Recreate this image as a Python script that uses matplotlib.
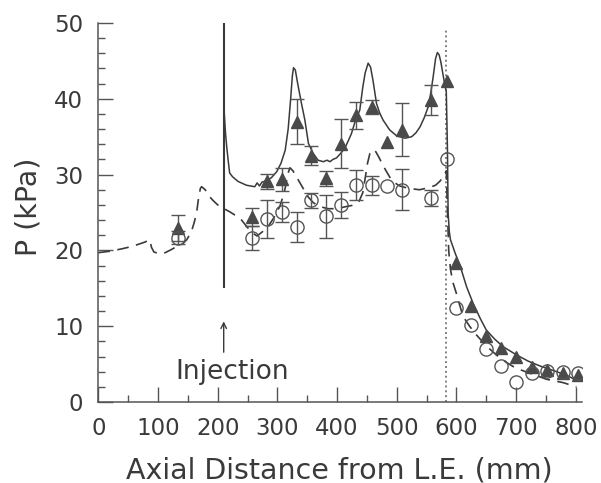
import numpy as np
import matplotlib
matplotlib.use("Agg")
import matplotlib.pyplot as plt

# -----------------------------
# Data
# -----------------------------
# measured points, triangles (with injection) and circles (no injection)
x_pts = [134, 257, 282, 307, 332, 357, 382, 407, 432, 458, 484, 508, 558, 584,
         600, 624, 649, 674, 700, 726, 751, 778, 803]
p_tri = [23.0, 24.4, 29.1, 29.4, 37.0, 32.5, 29.5, 34.1, 37.8, 38.9, 34.3, 35.9,
         39.8, 42.3, 18.4, 12.7, 8.7, 7.1, 5.9, 4.65, 4.2, 3.8, 3.6]
err_tri = [1.7, 1.2, 1.0, 1.5, 3.0, 1.3, 1.0, 3.2, 1.8, 0.9, 0, 3.5,
           2.0, 0, 0, 0, 0, 0, 0, 0, 0, 0, 0]
p_circ = [21.7, 21.6, 24.1, 25.1, 23.1, 26.6, 24.5, 26.0, 28.6, 28.6, 28.5, 28.0,
          26.9, 32.0, 12.4, 10.2, 6.95, 4.75, 2.7, 3.8, 4.1, 3.9, 3.8]
err_circ = [0.8, 1.6, 2.5, 1.3, 2.0, 1.0, 2.8, 1.7, 2.0, 1.25, 0, 2.7,
            1.1, 0, 0, 0, 0, 0, 0, 0, 0, 0, 0]

# computed curve with injection (solid)
x_solid = [211, 213, 215, 218, 220, 225, 234, 248, 262, 266, 270, 274, 282, 290,
           299, 306, 313, 318, 322, 325, 327, 330, 334, 340, 346, 352, 360, 368,
           377, 383, 388, 393, 399, 406, 413, 419, 424, 431, 438, 443, 447, 452,
           456, 460, 466, 471, 477, 488, 500, 514, 525, 532, 539, 546, 553, 557,
           561, 565, 568, 571, 574, 579, 583, 585, 586, 588, 590, 598, 606, 617,
           628, 640, 650, 664, 678, 701, 720, 740, 768, 785, 803]
p_solid = [38.0, 35.5, 33.7, 31.5, 30.2, 29.7, 29.1, 28.6, 28.4, 28.9, 28.5, 29.0,
           29.2, 29.6, 30.4, 31.5, 33.2, 36.0, 39.8, 43.0, 44.1, 43.8, 42.0, 39.5,
           37.2, 34.1, 32.8, 31.9, 31.7, 31.9, 31.7, 32.0, 32.2, 32.8, 33.5, 34.5,
           35.4, 37.2, 38.5, 41.5, 43.4, 44.7, 44.2, 42.5, 39.4, 38.2, 37.2, 35.9,
           35.1, 34.8, 35.0, 35.5, 36.3, 37.5, 39.0, 40.8, 42.9, 45.3, 46.1, 45.8,
           44.8, 42.5, 40.9, 33.0, 25.0, 22.5, 21.4, 19.6, 18.0, 15.2, 13.0, 11.0,
           9.5, 8.3, 7.3, 6.2, 5.4, 4.75, 4.0, 3.5, 2.8]

# computed curve without injection (dashed)
x_dash = [0, 20, 39, 55, 67, 78, 86, 89, 93, 100, 112, 122, 131, 140, 148, 156,
          161, 165, 168, 171, 173, 176, 179, 185, 192, 200, 208, 220, 232, 240,
          250, 258, 266, 274, 284, 294, 304, 309, 313, 317, 321, 326, 332, 343,
          351, 360, 370, 385, 400, 416, 430, 437, 443, 447, 451, 455, 460, 465,
          470, 475, 482, 488, 495, 505, 519, 538, 555, 565, 572, 578, 583, 585,
          587, 590, 594, 600, 605, 611, 622, 634, 650, 667, 684, 700, 723, 751,
          779, 801]
p_dash = [19.7, 19.9, 20.2, 20.5, 20.8, 21.1, 21.4, 20.4, 19.8, 19.6, 19.7, 20.1,
          20.5, 20.8, 21.4, 22.5, 23.8, 25.2, 27.0, 28.2, 28.4, 28.2, 28.0, 27.2,
          26.6, 26.0, 25.6, 25.1, 24.5, 24.0, 23.0, 22.3, 21.9, 22.4, 23.1, 24.3,
          25.8, 27.0, 28.2, 30.0, 30.9, 30.5, 29.7, 28.2, 27.1, 26.3, 25.8, 25.5,
          25.5, 25.8, 26.0, 26.5, 27.6, 29.5, 31.5, 32.8, 33.3, 33.0, 32.3, 31.5,
          30.5, 29.7, 29.0, 28.5, 28.2, 28.0, 28.3, 28.6, 29.1, 29.7, 30.5, 25.0,
          20.0, 17.5, 15.8, 14.3, 12.9, 11.3, 10.0, 8.8, 7.4, 6.2, 5.2, 4.45, 3.8,
          3.0, 2.55, 2.0]

x_inject = 210
x_throat = 582

# -----------------------------
# Plot
# -----------------------------
ink = "#3a3a3a"
fig = plt.figure(figsize=(6.01, 4.83), dpi=100)
ax = fig.add_axes([0.1637, 0.1677, 0.8043, 0.7847])

ax.plot(x_solid, p_solid, color=ink, lw=1.1, zorder=3)
ax.plot(x_dash, p_dash, color=ink, lw=1.2, dashes=(7, 4.5), zorder=3)

ax.vlines(x_inject, 15, 50, color=ink, lw=1.5, zorder=3)
ax.vlines(x_throat, 0, 49.3, color="#808080", lw=1.4, linestyles=(0, (1, 1.5)),
          zorder=2)

x_arr = np.array(x_pts)
et = np.array(err_tri)
ec = np.array(err_circ)
ax.errorbar(x_arr[et > 0], np.array(p_tri)[et > 0], yerr=et[et > 0], fmt="none",
            ecolor="#555555", elinewidth=1.0, capsize=5, capthick=1.0, zorder=4)
ax.errorbar(x_arr[ec > 0], np.array(p_circ)[ec > 0], yerr=ec[ec > 0], fmt="none",
            ecolor="#555555", elinewidth=1.0, capsize=5, capthick=1.0, zorder=4)

ax.plot(x_pts, p_tri, ls="none", marker="^", ms=8.5, mfc="#4a4a4a",
        mec="#4a4a4a", zorder=5)
ax.plot(x_pts, p_circ, ls="none", marker="o", ms=9.5, mfc="none",
        mec="#555555", mew=1.0, zorder=5)

ax.annotate("", xy=(x_inject, 11.0), xytext=(x_inject, 6.2),
            arrowprops=dict(arrowstyle="->", color=ink, lw=1.0))
ax.text(225, 4.0, "Injection", ha="center", va="center", fontsize=19, color=ink)

ax.set_xlim(0, 810)
ax.set_ylim(0, 50)
ax.set_xticks(np.arange(0, 801, 100))
ax.set_xticks(np.arange(50, 801, 100), minor=True)
ax.set_yticks(np.arange(0, 51, 10))
ax.set_yticks(np.arange(0, 51, 2), minor=True)

for s in ["top", "right"]:
    ax.spines[s].set_visible(False)
for s in ["left", "bottom"]:
    ax.spines[s].set_color("#555555")
    ax.spines[s].set_linewidth(1.1)

ax.tick_params(which="major", direction="in", length=11, width=1.0,
               color="#555555", labelsize=16.5, labelcolor=ink, pad=11)
ax.tick_params(which="minor", direction="in", length=5, width=1.0,
               color="#555555")

fig.text(339 / 601, 1 - 470 / 483, "Axial Distance from L.E. (mm)",
         ha="center", va="center", fontsize=20.5, color=ink)
fig.text(28 / 601, 1 - 207 / 483, "P (kPa)", rotation=90,
         ha="center", va="center", fontsize=20.5, color=ink)

plt.savefig("out.png", dpi=100)
